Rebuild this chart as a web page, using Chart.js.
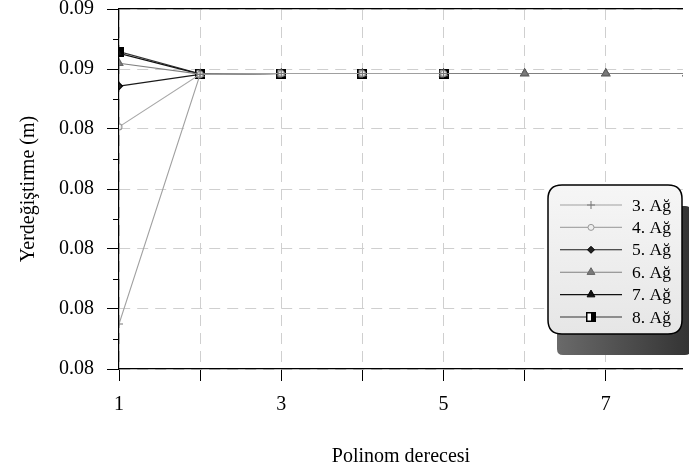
<!DOCTYPE html>
<html>
<head>
<meta charset="utf-8">
<script src="https://cdn.jsdelivr.net/npm/chart.js@4/dist/chart.umd.min.js"></script>
<style>
  body { margin: 0; background: #fff; }
  canvas { display: block; }
</style>
</head>
<body>
<canvas id="deflectionChart" width="689" height="473"></canvas>
<script>
// polynomial degree (x) and the values for each mesh
const degrees = [1, 2, 3, 4, 5, 6, 7, 8];
const ag3 = [0.08425, 0.085082, 0.085085, 0.085085, 0.085085];
const ag4 = [0.084907, 0.085082, 0.085085, 0.085085, 0.085085];
const ag5 = [0.085043, 0.085082, 0.085085, 0.085085, 0.085085];
const ag6 = [0.085119, 0.085083, 0.085085, 0.085085, 0.085085, 0.085085, 0.085085, 0.085085];
const ag7 = [0.085152, 0.085083, 0.085085, 0.085085, 0.085085, 0.085085, 0.085085, 0.085085];
const ag8 = [0.085158, 0.085084, 0.085085, 0.085085, 0.085085];

const seriesNames = ['3. Ağ', '4. Ağ', '5. Ağ', '6. Ağ', '7. Ağ', '8. Ağ'];

const yTickValues = [0.0841, 0.0843, 0.0845, 0.0847, 0.0849, 0.0851, 0.0853];
const yTickLabels = ['0.08', '0.08', '0.08', '0.08', '0.08', '0.09', '0.09'];
const xTickLabels = ['1', '', '3', '', '5', '', '7'];

function toPoints(values) {
  return values.map((v, i) => ({ x: degrees[i], y: v }));
}

// half white / half black square marker used for 8. Ağ
function halfSquare() {
  const c = document.createElement('canvas');
  c.width = 10; c.height = 10;
  const g = c.getContext('2d');
  g.fillStyle = '#000';
  g.fillRect(0, 0, 10, 10);
  g.fillStyle = '#fff';
  g.fillRect(1.5, 1.5, 3.5, 7);
  return c;
}

const SERIF = '"Liberation Serif", "Times New Roman", serif';

const minorTicks = {
  id: 'minorTicks',
  afterDraw(chart) {
    const y = chart.scales.y;
    const ctx = chart.ctx;
    ctx.save();
    ctx.strokeStyle = '#000';
    ctx.lineWidth = 1;
    for (let i = 0; i < yTickValues.length - 1; i++) {
      const py = Math.round(y.getPixelForValue((yTickValues[i] + yTickValues[i + 1]) / 2)) + 0.5;
      ctx.beginPath();
      ctx.moveTo(y.right - 6, py);
      ctx.lineTo(y.right, py);
      ctx.stroke();
    }
    ctx.restore();
  }
};

function roundRect(ctx, x, y, w, h, r) {
  ctx.beginPath();
  ctx.moveTo(x + r, y);
  ctx.lineTo(x + w - r, y);
  ctx.quadraticCurveTo(x + w, y, x + w, y + r);
  ctx.lineTo(x + w, y + h - r);
  ctx.quadraticCurveTo(x + w, y + h, x + w - r, y + h);
  ctx.lineTo(x + r, y + h);
  ctx.quadraticCurveTo(x, y + h, x, y + h - r);
  ctx.lineTo(x, y + r);
  ctx.quadraticCurveTo(x, y, x + r, y);
  ctx.closePath();
}

const boxLegend = {
  id: 'boxLegend',
  afterDraw(chart) {
    const ctx = chart.ctx;
    const bx = 548, by = 185, bw = 134, bh = 149;
    ctx.save();
    // shadow
    const sg = ctx.createLinearGradient(bx + 9, 0, bx + bw + 9, 0);
    sg.addColorStop(0, '#6a6a6a');
    sg.addColorStop(1, '#333');
    ctx.fillStyle = sg;
    roundRect(ctx, bx + 9, by + 21, bw, bh, 6);
    ctx.fill();
    // box
    const bg = ctx.createLinearGradient(0, by, 0, by + bh);
    bg.addColorStop(0, '#f6f6f6');
    bg.addColorStop(1, '#e6e6e6');
    ctx.fillStyle = bg;
    roundRect(ctx, bx, by, bw, bh, 14);
    ctx.fill();
    ctx.strokeStyle = '#000';
    ctx.lineWidth = 1.5;
    ctx.stroke();

    ctx.font = '17.5px ' + SERIF;
    ctx.textBaseline = 'middle';
    ctx.textAlign = 'left';
    chart.data.datasets.forEach((ds, i) => {
      const ry = 205 + i * 22.4;
      ctx.strokeStyle = ds.borderColor;
      ctx.lineWidth = ds.borderWidth;
      ctx.beginPath();
      ctx.moveTo(560, ry);
      ctx.lineTo(622, ry);
      ctx.stroke();
      ctx.fillStyle = ds.pointBackgroundColor;
      ctx.strokeStyle = ds.pointBorderColor;
      ctx.lineWidth = 1;
      Chart.helpers.drawPoint(ctx, {
        pointStyle: ds.pointStyle,
        radius: ds.pointRadius,
        rotation: 0,
        borderWidth: 1
      }, 591, ry);
      ctx.fillStyle = '#000';
      ctx.fillText(ds.label, 632, ry + 1);
    });
    ctx.restore();
  }
};

const ctx = document.getElementById('deflectionChart').getContext('2d');

window.deflectionChart = new Chart(ctx, {
  type: 'line',
  data: {
    datasets: [
      {
        label: seriesNames[0], data: toPoints(ag3),
        borderColor: '#a0a0a0', borderWidth: 1.1,
        pointStyle: 'cross', pointRadius: 4, pointBorderColor: '#777', pointBackgroundColor: '#777'
      },
      {
        label: seriesNames[1], data: toPoints(ag4),
        borderColor: '#a8a8a8', borderWidth: 1.1,
        pointStyle: 'circle', pointRadius: 3, pointBorderColor: '#999', pointBackgroundColor: '#eee'
      },
      {
        label: seriesNames[2], data: toPoints(ag5),
        borderColor: '#1a1a1a', borderWidth: 1.1,
        pointStyle: 'rectRot', pointRadius: 3.5, pointBorderColor: '#000', pointBackgroundColor: '#222'
      },
      {
        label: seriesNames[3], data: toPoints(ag6),
        borderColor: '#808080', borderWidth: 1.1,
        pointStyle: 'triangle', pointRadius: 4.5, pointBorderColor: '#666', pointBackgroundColor: '#7a7a7a'
      },
      {
        label: seriesNames[4], data: toPoints(ag7),
        borderColor: '#111', borderWidth: 1.1,
        pointStyle: 'triangle', pointRadius: 4.5, pointBorderColor: '#000', pointBackgroundColor: '#111'
      },
      {
        label: seriesNames[5], data: toPoints(ag8),
        borderColor: '#333', borderWidth: 1.1,
        pointStyle: halfSquare(), pointRadius: 5, pointBorderColor: '#000', pointBackgroundColor: '#000'
      }
    ]
  },
  options: {
    responsive: false,
    devicePixelRatio: 1,
    animation: false,
    layout: { padding: { top: 9, right: 0, left: 0, bottom: 0 } },
    plugins: {
      legend: { display: false },
      tooltip: { enabled: false }
    },
    elements: { line: { tension: 0 }, point: { borderWidth: 1 } },
    scales: {
      x: {
        type: 'linear',
        min: 1,
        max: 7.95,
        afterBuildTicks: s => { s.ticks = degrees.slice(0, 7).map(v => ({ value: v })); },
        afterFit: s => { s.height = 104; s.paddingLeft = 0; s.paddingRight = 0; },
        border: { color: '#000', width: 1.2, dash: [11, 7] },
        grid: { color: '#cfcfcf', lineWidth: 1, tickColor: '#000', tickLength: 12, tickWidth: 1 },
        ticks: {
          padding: 12,
          color: '#000',
          font: { family: SERIF, size: 20 },
          maxRotation: 0,
          autoSkip: false,
          callback: (v, i) => xTickLabels[i]
        },
        title: {
          display: true,
          text: 'Polinom derecesi',
          color: '#000',
          font: { family: SERIF, size: 20 },
          padding: { top: 0, bottom: 4 }
        }
      },
      xTop: {
        type: 'linear',
        position: 'top',
        min: 1,
        max: 7.95,
        afterFit: s => { s.height = 0; s.paddingLeft = 0; s.paddingRight = 0; },
        border: { color: '#000', width: 1.2 },
        grid: { display: false },
        ticks: { display: false }
      },
      y: {
        min: 0.0841,
        max: 0.0853,
        afterBuildTicks: s => { s.ticks = yTickValues.map(v => ({ value: v })); },
        afterFit: s => { s.width = 119; s.paddingTop = 0; s.paddingBottom = 0; },
        border: { color: '#000', width: 1.2, dash: [11, 7] },
        grid: { color: '#cfcfcf', lineWidth: 1, tickColor: '#000', tickLength: 12, tickWidth: 1 },
        ticks: {
          padding: 13,
          color: '#000',
          font: { family: SERIF, size: 20 },
          autoSkip: false,
          callback: (v, i) => yTickLabels[i]
        },
        title: {
          display: true,
          text: 'Yerdeğiştirme (m)',
          color: '#000',
          font: { family: SERIF, size: 20 },
          padding: { top: 17, bottom: 0 }
        }
      }
    }
  },
  plugins: [minorTicks, boxLegend]
});
</script>
</body>
</html>
